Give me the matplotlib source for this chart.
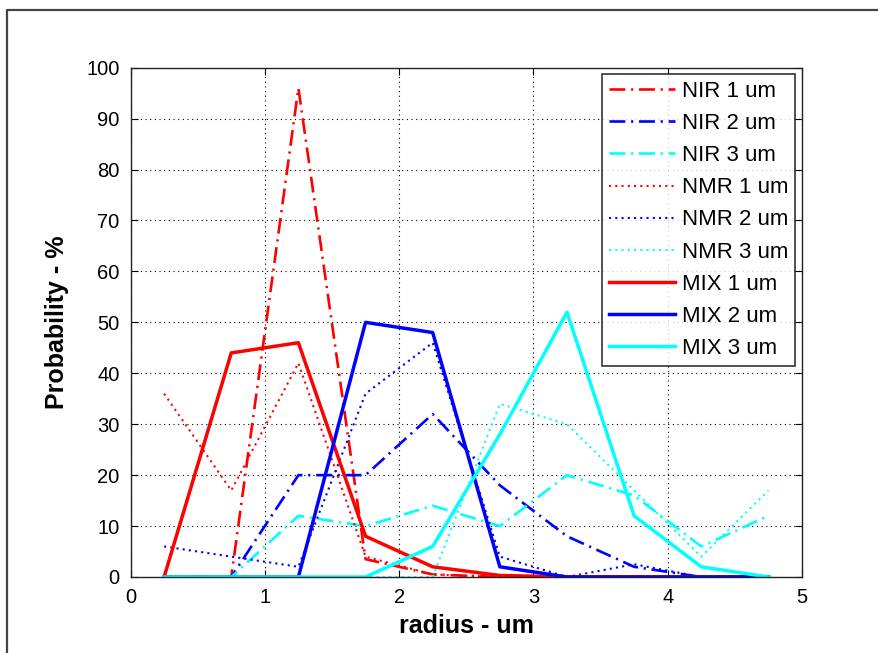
import matplotlib.pyplot as plt
from matplotlib.lines import Line2D

plt.rcParams['font.family'] = ['Liberation Sans', 'DejaVu Sans']

# bin centres (radius, um)
radius = [0.25, 0.75, 1.25, 1.75, 2.25, 2.75, 3.25, 3.75, 4.25, 4.75]

nir_1 = [0, 0, 96, 3.5, 0.5, 0, 0, 0, 0, 0]
nir_2 = [0, 0, 20, 20, 32, 18, 8, 2, 0, 0]
nir_3 = [0, 0, 12, 10, 14, 10, 20, 16, 6, 12]
nmr_1 = [36, 17, 42, 4, 0.5, 0, 0, 0, 0, 0]
nmr_2 = [6, 4, 2, 36, 46, 4, 0, 2.5, 0, 0]
nmr_3 = [0, 0, 0, 0, 0, 34, 30, 17, 4, 17]
mix_1 = [0, 44, 46, 8, 2, 0.3, 0, 0, 0, 0]
mix_2 = [0, 0, 0, 50, 48, 2, 0, 0, 0, 0]
mix_3 = [0, 0, 0, 0, 6, 28, 52, 12, 2, 0]

labels = ['NIR 1 um', 'NIR 2 um', 'NIR 3 um',
          'NMR 1 um', 'NMR 2 um', 'NMR 3 um',
          'MIX 1 um', 'MIX 2 um', 'MIX 3 um']
series = [nir_1, nir_2, nir_3, nmr_1, nmr_2, nmr_3, mix_1, mix_2, mix_3]
colors = ['#ff0000', '#0000ff', '#00ffff'] * 3

dashdot = (0, (6, 2.2, 0.8, 2.2))
dotted = (0, (1, 2))
styles = [dashdot] * 3 + [dotted] * 3 + ['-'] * 3
widths = [1.9] * 3 + [1.5] * 3 + [2.5] * 3

fig = plt.figure(figsize=(8.79, 6.53), dpi=100)
ax = fig.add_axes([0.1485, 0.1164, 0.9124 - 0.1485, 0.8963 - 0.1164])

for y, lab, c, ls, lw in zip(series, labels, colors, styles, widths):
    ax.plot(radius, y, color=c, linestyle=ls, linewidth=lw, label=lab)

ax.set_xlim(0, 5)
ax.set_ylim(0, 100)
ax.set_xticks(range(0, 6))
ax.set_yticks(range(0, 101, 10))
ax.grid(True, color='black', linestyle=(0, (1, 3.2)), linewidth=0.8)
ax.tick_params(direction='in', length=5, width=0.8, top=True, right=True,
               labelsize=14.5, pad=8)
for s in ax.spines.values():
    s.set_linewidth(1.0)
    s.set_color('#222222')

ax.set_xlabel('radius - um', fontsize=18, fontweight='bold', labelpad=5)
ax.set_ylabel('Probability - %', fontsize=18, fontweight='bold', labelpad=12)

leg = ax.legend(loc='upper right', fontsize=16, frameon=True, fancybox=False,
                handlelength=3.0, handletextpad=0.3, labelspacing=0.5,
                borderaxespad=0.3, borderpad=0.3)
leg.get_frame().set_edgecolor('black')
leg.get_frame().set_linewidth(1.2)

# outer figure frame (left and top edges)
fx = 7 / 879
fy = 1 - 10 / 653
fig.add_artist(Line2D([fx, fx, 1], [0, fy, fy], transform=fig.transFigure,
                      color='#444444', linewidth=1.6))

fig.savefig('out.png', dpi=100, facecolor='white')
